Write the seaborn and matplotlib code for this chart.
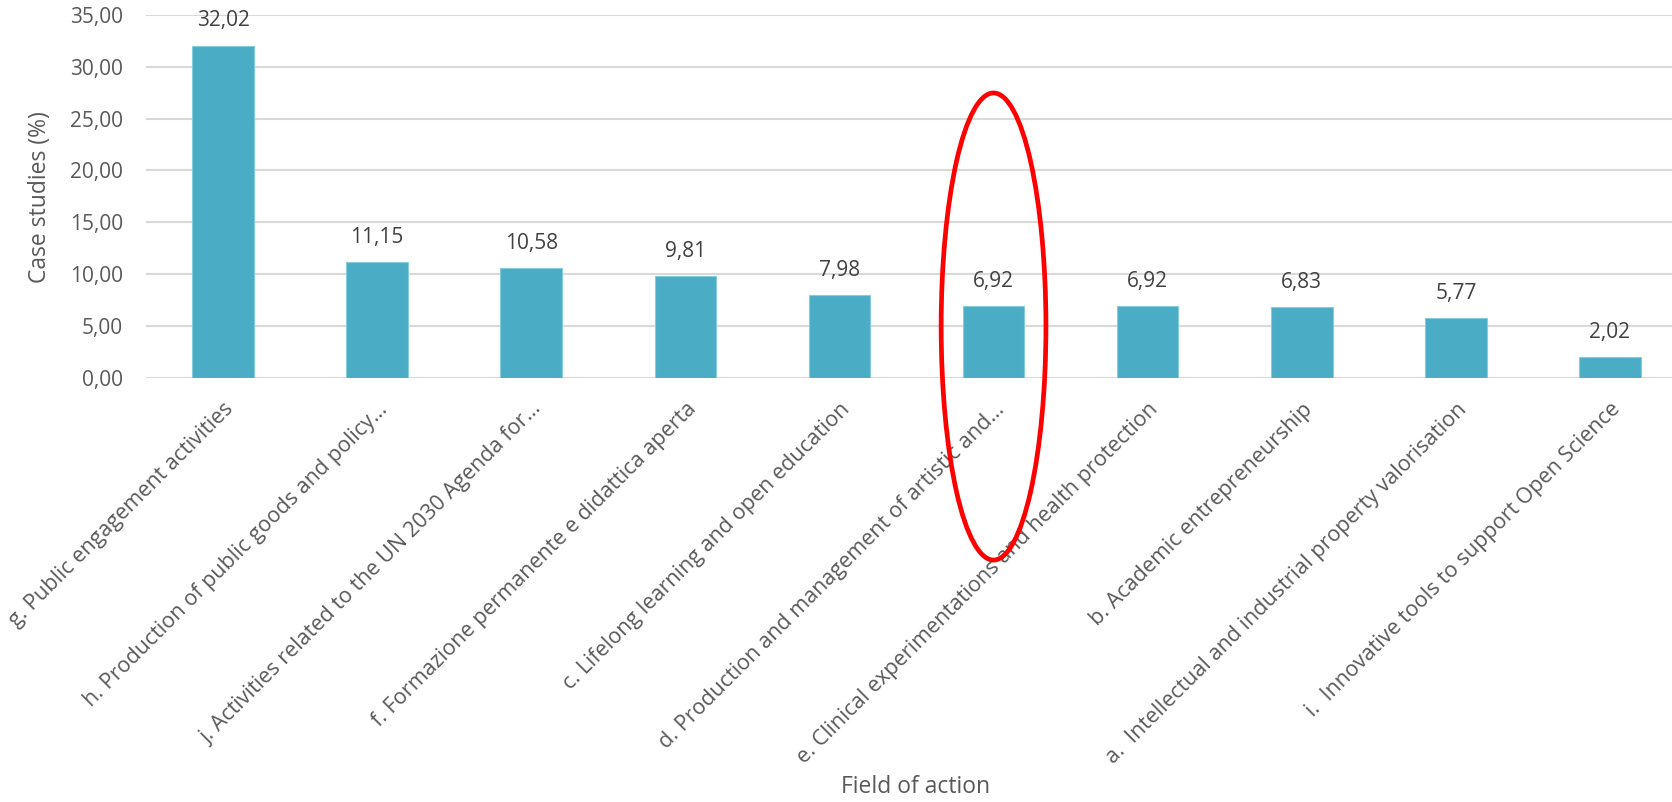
import matplotlib
matplotlib.use("Agg")
import matplotlib.pyplot as plt
import seaborn as sns
import pandas as pd
from matplotlib.patches import Ellipse
from matplotlib.ticker import FuncFormatter

categories = [
    "g. Public engagement activities",
    "h. Production of public goods and policy…",
    "j. Activities related to the UN 2030 Agenda for…",
    "f. Formazione permanente e didattica aperta",
    "c. Lifelong learning and open education",
    "d. Production and management of artistic and…",
    "e. Clinical experimentations and health protection",
    "b. Academic entrepreneurship",
    "a.  Intellectual and industrial property valorisation",
    "i.  Innovative tools to support Open Science",
]
values = [32.02, 11.15, 10.58, 9.81, 7.98, 6.92, 6.92, 6.83, 5.77, 2.02]

df = pd.DataFrame({"cat": categories, "val": values})

sns.set_theme(style="white")
plt.rcParams["font.family"] = ["Open Sans", "DejaVu Sans"]
txt = "#595959"

W, H = 1672, 802
fig = plt.figure(figsize=(W / 100, H / 100), dpi=100)
left, right, top, bottom = 146, 1687, 14.7, 378
ax = fig.add_axes([left / W, 1 - bottom / H, (right - left) / W, (bottom - top) / H])

sns.barplot(data=df, x="cat", y="val", color="#4BACC6", saturation=1,
            width=0.40, ax=ax, edgecolor="#86CCDD", linewidth=0.8, zorder=3)

ax.set_ylim(0, 35)
ax.set_xlim(-0.5, len(categories) - 0.5)
ax.set_yticks(range(0, 36, 5))
ax.yaxis.set_major_formatter(FuncFormatter(lambda v, p: f"{v:.2f}".replace(".", ",")))
ax.grid(axis="y", color="#D9D9D9", linewidth=1.5, zorder=0)
ax.set_axisbelow(True)
for s in ax.spines.values():
    s.set_visible(False)
ax.tick_params(axis="y", length=0, labelsize=15, colors=txt, pad=16.5)
ax.set_xticks(range(len(categories)))
ax.set_xticklabels(categories, rotation=45, ha="right", va="top",
                   rotation_mode="anchor")
ax.tick_params(axis="x", length=0, labelsize=15.5, colors=txt, pad=15)

for i, v in enumerate(values):
    ax.annotate(f"{v:.2f}".replace(".", ","), (i, v), xytext=(0, 18),
                textcoords="offset points", ha="center", va="center",
                fontsize=15, color="#404040")

ax.set_xlabel("")
ax.set_ylabel("")
fig.text(916 / W, 1 - 787 / H, "Field of action", ha="center", va="center",
         fontsize=16.5, color=txt)
fig.text(40 / W, 1 - 197 / H, "Case studies (%)", ha="center", va="center",
         rotation=90, fontsize=16.5, color=txt)

ell = Ellipse((5.0, 4.96), width=0.68, height=45, fill=False,
              edgecolor="#FF0000", linewidth=3.4, clip_on=False, zorder=5)
ax.add_patch(ell)

fig.savefig("out.png", dpi=100)
